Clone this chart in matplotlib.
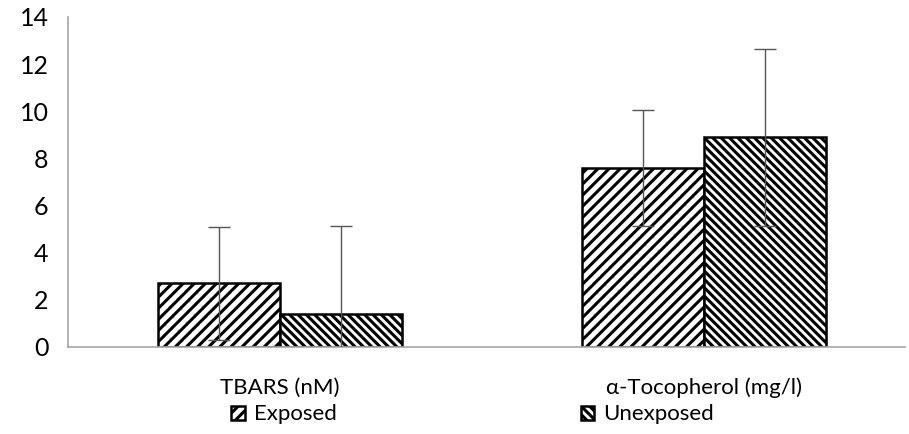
import matplotlib.pyplot as plt
import numpy as np

categories = ['TBARS (nM)', 'α-Tocopherol (mg/l)']
series = ['Exposed', 'Unexposed']
exposed = [2.7, 7.6]
unexposed = [1.38, 8.89]
exposed_err = [2.4, 2.45]
unexposed_err = [3.75, 3.75]

plt.rcParams['font.family'] = ['Lato', 'DejaVu Sans']
plt.rcParams['hatch.linewidth'] = 2.2

fig = plt.figure(figsize=(9.09, 4.34), dpi=100)
ax = fig.add_axes([0.075, 0.2005, 0.921, 0.7605])

x = np.arange(len(categories))
width = 0.288

ax.bar(x - width / 2, exposed, width, color='white', edgecolor='black',
       linewidth=1.8, hatch='///', label=series[0], zorder=2)
ax.bar(x + width / 2, unexposed, width, color='white', edgecolor='black',
       linewidth=1.8, hatch='\\\\\\\\', label=series[1], zorder=2)
ax.errorbar(x - width / 2, exposed, yerr=exposed_err, fmt='none',
            ecolor='#555555', elinewidth=1, capsize=8, capthick=1, zorder=3)
ax.errorbar(x + width / 2, unexposed, yerr=unexposed_err, fmt='none',
            ecolor='#555555', elinewidth=1, capsize=8, capthick=1, zorder=3)

ax.set_xlim(-0.5, 1.474)
ax.set_ylim(0, 14)
ax.set_yticks(np.arange(0, 15, 2))
ax.set_xticks(x)
ax.set_xticklabels(categories, fontsize=16)
ax.tick_params(axis='y', length=0, labelsize=18, pad=14)
ax.tick_params(axis='x', length=0, pad=22)

for side in ['top', 'right']:
    ax.spines[side].set_visible(False)
for side in ['left', 'bottom']:
    ax.spines[side].set_color('#a6a6a6')
    ax.spines[side].set_linewidth(1.2)

fig.legend(loc='center', bbox_to_anchor=(0.52, 0.045), ncol=2, frameon=False,
           fontsize=16, handlelength=0.6, handleheight=0.6, handletextpad=0.4,
           columnspacing=11)

fig.savefig('out.png', dpi=100)
